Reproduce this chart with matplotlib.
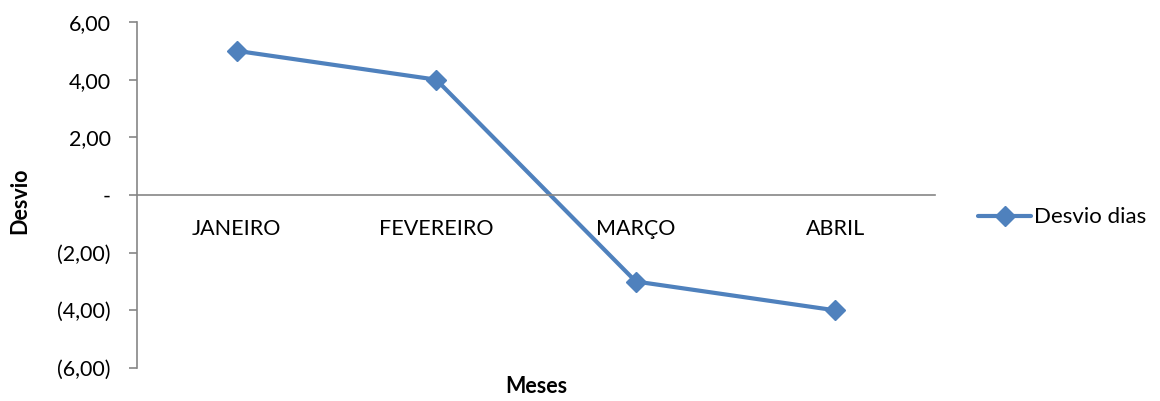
import matplotlib
matplotlib.use('Agg')
import matplotlib.pyplot as plt

# data
meses = ['JANEIRO', 'FEVEREIRO', 'MARÇO', 'ABRIL']
desvio_dias = [5, 4, -3, -4]
y_ticks = [6, 4, 2, 0, -2, -4, -6]
y_labels = ['6,00', '4,00', '2,00', '-', '(2,00)', '(4,00)', '(6,00)']

plt.rcParams['font.family'] = ['Lato', 'DejaVu Sans']
FS = 15.5

fig = plt.figure(figsize=(11.6, 4.01), dpi=100)
ax = fig.add_axes([0.1181, 0.0823, 0.688, 0.8628])

for s in ['top', 'right']:
    ax.spines[s].set_visible(False)
ax.spines['bottom'].set_position(('data', 0))
for s in ['left', 'bottom']:
    ax.spines[s].set_color('#868686')
    ax.spines[s].set_linewidth(1.2)

x = range(len(meses))
ax.plot(x, desvio_dias, color='#4F81BD', lw=3.0, marker='D', ms=10,
        label='Desvio dias', solid_capstyle='round', solid_joinstyle='round')

ax.set_xlim(-0.5, len(meses) - 0.5)
ax.set_ylim(-6, 6)
ax.set_yticks(y_ticks)
ax.set_yticklabels(y_labels, fontsize=FS)
ax.set_xticks(list(x))
ax.set_xticklabels(meses, fontsize=FS)

ax.tick_params(axis='x', length=0, pad=17)
ax.tick_params(axis='y', length=6, color='#868686', width=1.2, pad=13)

fig.text(0.017, 0.5, 'Desvio', fontsize=FS, fontweight='bold', rotation=90,
         ha='center', va='center')
fig.text(0.462, 0.035, 'Meses', fontsize=FS, fontweight='bold', ha='center', va='center')

fig.legend(loc='center left', bbox_to_anchor=(0.826, 0.458), frameon=False,
           fontsize=FS + 0.5, handlelength=2.4, handletextpad=0.1)

fig.savefig('out.png', dpi=100)
